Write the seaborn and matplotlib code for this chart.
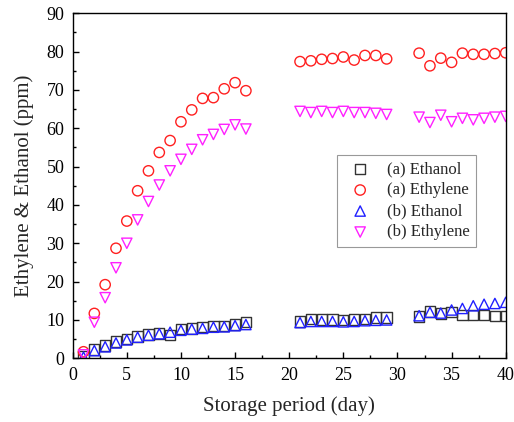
import numpy as np
import pandas as pd
import matplotlib
matplotlib.use("Agg")
import matplotlib.pyplot as plt
import seaborn as sns
from matplotlib.ticker import MultipleLocator

# Storage days (gap between 16-21 and 29-32)
days = [1, 2, 3, 4, 5, 6, 7, 8, 9, 10, 11, 12, 13, 14, 15, 16,
        21, 22, 23, 24, 25, 26, 27, 28, 29,
        32, 33, 34, 35, 36, 37, 38, 39, 40]

a_ethanol = [0.5, 2.3, 3.3, 4.4, 5.1, 5.7, 6.2, 6.5, 6.0, 7.6, 7.8, 8.1, 8.4, 8.4, 8.8, 9.4,
             9.6, 10.2, 10.1, 10.1, 9.9, 10.1, 10.3, 10.6, 10.6,
             10.9, 12.2, 11.7, 12.0, 11.3, 11.2, 11.3, 11.1, 11.1]
a_ethylene = [1.7, 11.7, 19.2, 28.7, 35.8, 43.7, 48.9, 53.7, 56.8, 61.7, 64.8, 67.8, 68.0, 70.3, 71.9, 69.8,
              77.4, 77.6, 78.0, 78.2, 78.6, 77.8, 79.0, 79.0, 78.1,
              79.6, 76.3, 78.3, 77.2, 79.6, 79.3, 79.3, 79.5, 79.7]
b_ethanol = [0.3, 2.0, 3.0, 4.0, 4.8, 5.5, 6.0, 6.4, 6.8, 7.3, 7.6, 7.8, 8.1, 8.2, 8.5, 8.8,
             9.3, 9.6, 9.6, 9.6, 9.5, 9.6, 9.8, 9.9, 10.0,
             11.1, 12.0, 11.8, 12.6, 13.0, 13.7, 14.1, 14.3, 14.6]
b_ethylene = [0.9, 9.4, 15.8, 23.6, 30.0, 36.1, 40.9, 45.2, 48.9, 51.9, 54.5, 57.0, 58.4, 59.7, 60.9, 59.8,
              64.4, 64.1, 64.4, 64.1, 64.4, 64.1, 64.1, 63.9, 63.6,
              62.9, 61.5, 63.4, 61.7, 62.6, 62.2, 62.6, 62.9, 63.1]

labels = ["(a) Ethanol", "(a) Ethylene", "(b) Ethanol", "(b) Ethylene"]
markers = ["s", "o", "^", "v"]
colors = ["#333333", "#ff2020", "#2020ff", "#ff20ff"]

sns.set_style("ticks")
plt.rcParams["font.family"] = ["Liberation Serif", "DejaVu Serif"]

df = pd.DataFrame({"day": days})
for lab, vals in zip(labels, [a_ethanol, a_ethylene, b_ethanol, b_ethylene]):
    df[lab] = vals
long = df.melt(id_vars="day", var_name="series", value_name="ppm")

fig = plt.figure(figsize=(5.14, 4.22), dpi=100)
ax = fig.add_axes([0.1414, 0.151, 0.8425, 0.8175])

for lab, m, c in zip(labels, markers, colors):
    sub = long[long["series"] == lab]
    sns.scatterplot(data=sub, x="day", y="ppm", marker=m, s=55, ax=ax, label=lab,
                    linewidth=1.0)
    coll = ax.collections[-1]
    coll.set_facecolor("none")
    coll.set_edgecolor(c)

ax.set_xlim(0, 40)
ax.set_ylim(0, 90)
ax.xaxis.set_major_locator(MultipleLocator(5))
ax.xaxis.set_minor_locator(MultipleLocator(2.5))
ax.yaxis.set_major_locator(MultipleLocator(10))
ax.yaxis.set_minor_locator(MultipleLocator(5))
ax.tick_params(which="both", direction="in", width=1, labelsize=13, colors="black")
ax.tick_params(which="major", length=4, pad=6)
ax.tick_params(which="minor", length=2.5)
for sp in ax.spines.values():
    sp.set_linewidth(1.0)
    sp.set_color("black")

ax.set_xlabel("Storage period (day)", fontsize=15, labelpad=9)
ax.set_ylabel("Ethylene & Ethanol (ppm)", fontsize=15, labelpad=9)

leg = ax.legend(loc="upper left", bbox_to_anchor=(0.61, 0.59), borderaxespad=0,
                fontsize=12, frameon=True, fancybox=False, edgecolor="gray",
                handletextpad=0.6, borderpad=0.4, labelspacing=0.3)
leg.get_frame().set_linewidth(0.8)

fig.savefig("out.png", dpi=100)
